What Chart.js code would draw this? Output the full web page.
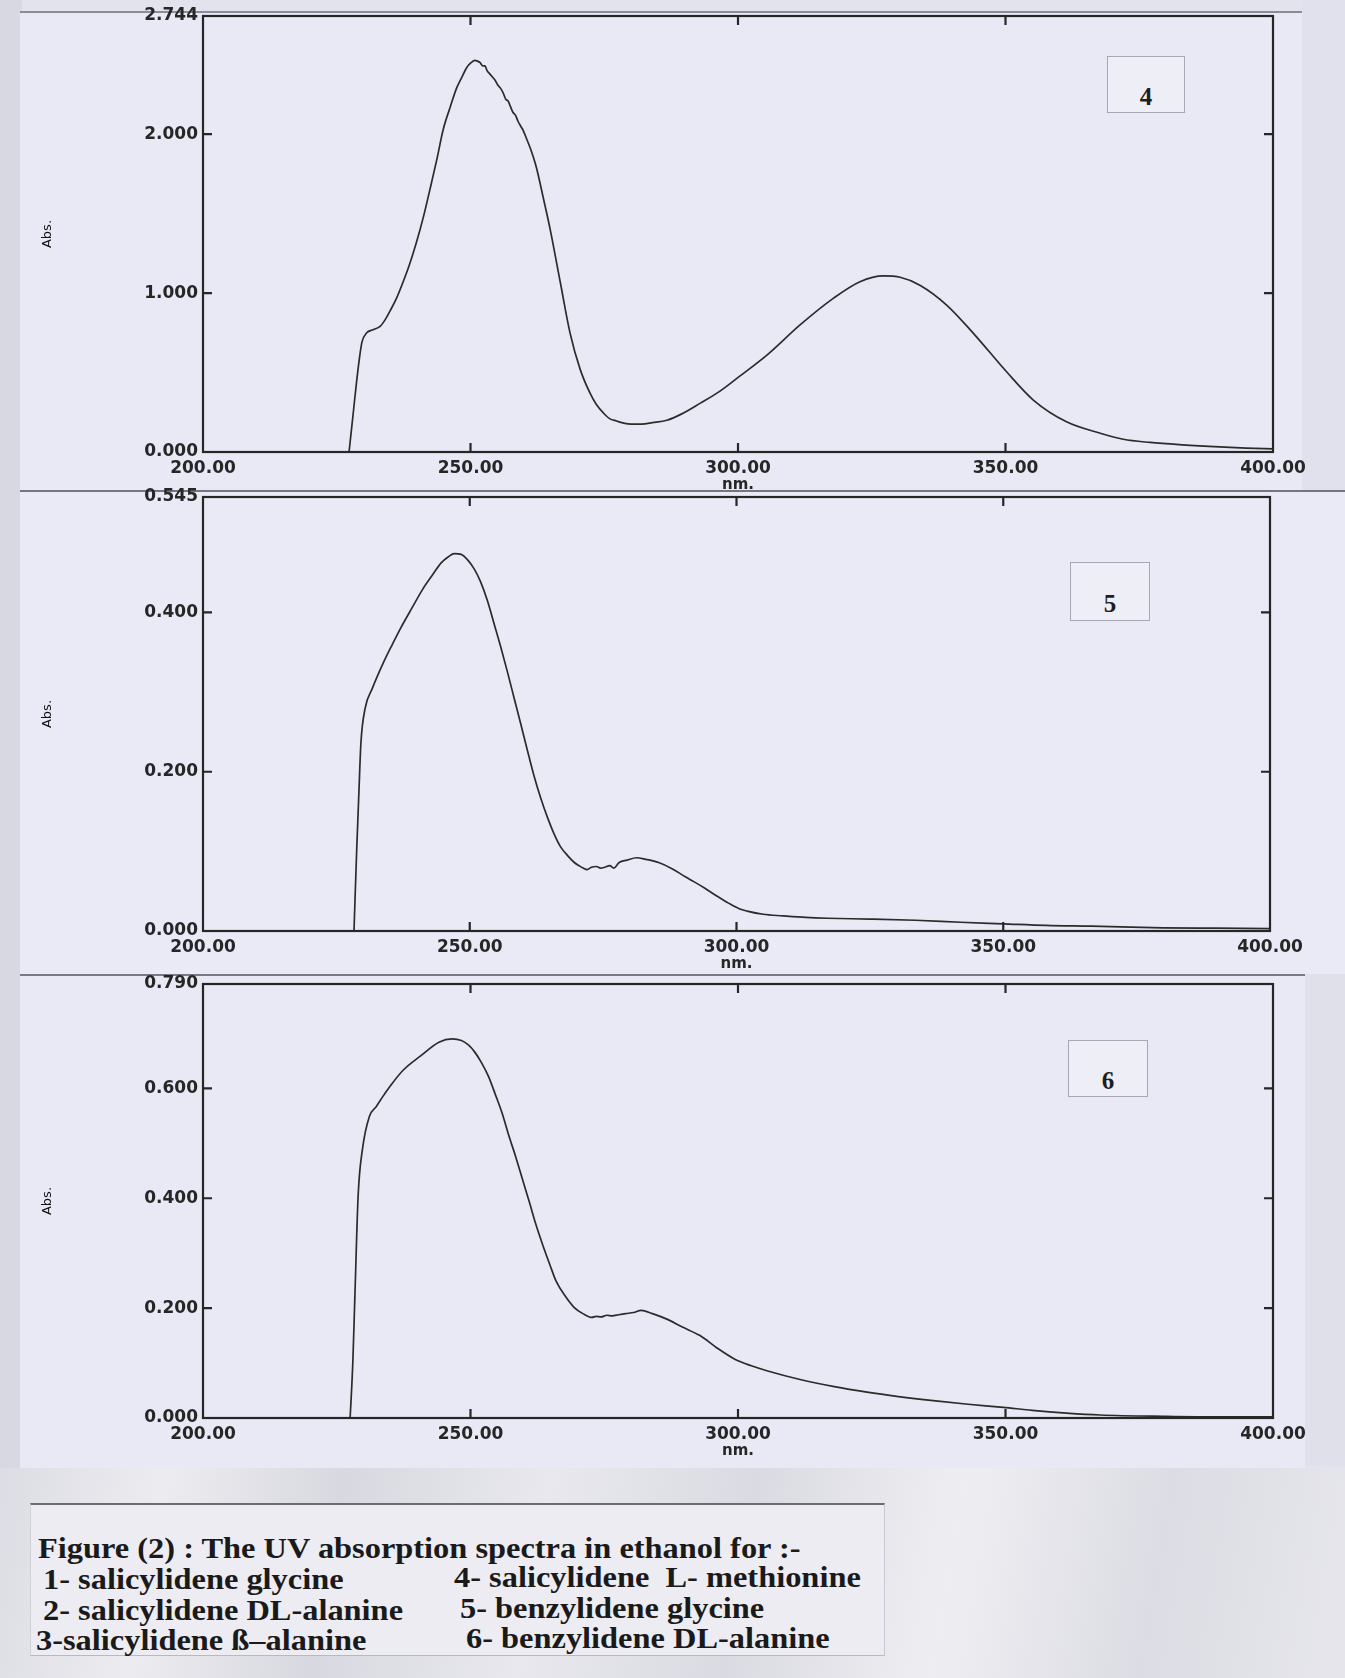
<!DOCTYPE html>
<html>
<head>
<meta charset="utf-8">
<script src="https://cdn.jsdelivr.net/npm/chart.js@4.4.1/dist/chart.umd.min.js"></script>
<style>
  html, body { margin: 0; padding: 0; }
  body { width: 1345px; height: 1678px; position: relative; overflow: hidden; background: #e3e3ee; }
  .sheet { position: absolute; }
  canvas { position: absolute; left: 0; }
  .tag { position: absolute; border: 1px solid rgba(110,110,125,0.55); background: #eeeef7;
         font: bold 25px "Liberation Serif", serif; color: #1e1e1e; text-align: center; box-sizing: border-box; }
  .caption { position: absolute; left: 30px; top: 1503px; width: 855px; height: 153px; box-sizing: border-box;
             background: #ececf2; border-top: 2px solid #6a6a70; border-bottom: 1px solid #b8b8c0;
             border-left: 1px solid #d0d0d8; border-right: 1px solid #c8c8d0;
             font: bold 30px "Liberation Serif", serif; color: #1a1a1a; }
  .caption div { position: absolute; white-space: pre; line-height: 30px; transform: scaleX(1.08); transform-origin: 0 50%; }
</style>
</head>
<body>
<div class="sheet" style="left:0;top:0;width:22px;height:1678px;background:#d8d8e2"></div>
<div class="sheet" style="left:1302px;top:0;width:43px;height:490px;background:#e1e1ed"></div>
<div class="sheet" style="left:20px;top:11px;width:1282px;height:479px;background:#e9e9f6;border-top:2px solid #8c8c98"></div>
<div class="sheet" style="left:20px;top:490px;width:1325px;height:484px;background:#eaeaf7;border-top:2px solid #75757f"></div>
<div class="sheet" style="left:1305px;top:974px;width:40px;height:492px;background:#e0e0ea"></div>
<div class="sheet" style="left:20px;top:974px;width:1285px;height:492px;background:#e9e9f6;border-top:2px solid #7a7a86;border-bottom:2px solid #f2f2f6"></div>
<div class="sheet" style="left:0;top:1468px;width:1345px;height:210px;background:linear-gradient(100deg,#dcdce4 0%,#ececf0 12%,#d8d8e0 25%,#e8e8ee 40%,#dadae2 55%,#eeeef2 70%,#dcdce4 85%,#e6e6ec 100%)"></div>

<canvas id="c4" width="1345" height="500" style="top:0"></canvas>
<canvas id="c5" width="1345" height="499" style="top:480px"></canvas>
<canvas id="c6" width="1345" height="500" style="top:966px"></canvas>

<div class="tag" style="left:1107px;top:56px;width:78px;height:57px;line-height:80px">4</div>
<div class="tag" style="left:1070px;top:562px;width:80px;height:59px;line-height:82px">5</div>
<div class="tag" style="left:1068px;top:1040px;width:80px;height:57px;line-height:80px">6</div>

<div class="caption">
  <div style="left:7px;top:28px">Figure (2) : The UV absorption spectra in ethanol for :-</div>
  <div style="left:12px;top:59px">1- salicylidene glycine</div>
  <div style="left:423px;top:57px">4- salicylidene  L- methionine</div>
  <div style="left:12px;top:90px">2- salicylidene DL-alanine</div>
  <div style="left:429px;top:88px">5- benzylidene glycine</div>
  <div style="left:5px;top:120px">3-salicylidene ß–alanine</div>
  <div style="left:435px;top:118px">6- benzylidene DL-alanine</div>
</div>

<script>
// wavelength axis
const xTicks = [200, 250, 300, 350, 400];

// 4- salicylidene L-methionine
const wl4 = [227.3, 228.0, 228.7, 229.2, 229.7, 230.6, 231.8, 233.1, 234.0, 235.0, 236.2, 237.4, 238.6, 239.9,
  241.2, 242.4, 243.7, 244.9, 246.2, 247.4, 248.4, 249.3, 250.1, 250.8, 251.3, 251.8, 252.3, 252.7, 253.1,
  253.6, 254.1, 254.6, 255.1, 255.6, 256.1, 256.6, 257.0, 257.4, 257.9, 258.4, 258.9, 259.4, 259.9, 260.5,
  261.2, 261.8, 262.4, 263.6, 264.9, 266.8, 268.6, 270.5, 272.3, 273.5, 274.8, 276.0, 277.3, 278.5, 280.0,
  282.0, 284.0, 286.7, 289.5, 292.9, 296.5, 300.2, 305.4, 311.6, 317.8, 322.8, 327.2, 330.3, 334.0, 339.0,
  344.0, 350.2, 355.2, 361.4, 367.7, 372.0, 377.0, 383.0, 390.0, 395.0, 400.0];
const abs4 = [0.00, 0.22, 0.44, 0.58, 0.69, 0.75, 0.77, 0.79, 0.83, 0.89, 0.97, 1.07, 1.18, 1.32,
  1.48, 1.65, 1.84, 2.03, 2.17, 2.29, 2.36, 2.42, 2.45, 2.465, 2.46, 2.45, 2.43, 2.43, 2.40,
  2.38, 2.36, 2.34, 2.31, 2.29, 2.26, 2.22, 2.21, 2.18, 2.14, 2.12, 2.08, 2.05, 2.02, 1.97,
  1.91, 1.85, 1.78, 1.60, 1.40, 1.065, 0.75, 0.52, 0.373, 0.30, 0.247, 0.21, 0.195, 0.183, 0.175,
  0.176, 0.185, 0.20, 0.24, 0.306, 0.38, 0.474, 0.61, 0.80, 0.967, 1.072, 1.108, 1.10, 1.05, 0.925,
  0.747, 0.505, 0.327, 0.19, 0.118, 0.08, 0.06, 0.045, 0.032, 0.025, 0.02];
const yTicks4 = [0, 1, 2, 2.744];

// 5- benzylidene glycine
const wl5 = [228.3, 228.8, 229.2, 229.6, 230.4, 231.7, 233.75, 235.5, 237.1, 239.2, 241.25, 243.0, 244.6, 246.0,
  247.1, 248.4, 249.6, 250.8, 252.0, 253.3, 254.6, 255.8, 257.0, 258.3, 259.6, 260.8, 262.0, 263.3, 264.6,
  265.8, 267.0, 268.3, 269.6, 270.5, 271.25, 272.0, 272.8, 273.75, 274.5, 275.3, 276.25, 277.0, 278.0, 279.5,
  281.25, 283.0, 285.4, 288.0, 290.4, 292.0, 294.0, 296.3, 298.5, 300.5, 302.0, 305.0, 308.7, 313.0, 317.0,
  325.0, 333.5, 342.0, 350.0, 358.0, 366.5, 380.0, 390.0, 400.0];
const abs5 = [0.000, 0.100, 0.170, 0.236, 0.280, 0.304, 0.336, 0.360, 0.381, 0.406, 0.430, 0.447, 0.462, 0.470,
  0.474, 0.473, 0.466, 0.455, 0.439, 0.415, 0.385, 0.357, 0.327, 0.293, 0.259, 0.227, 0.196, 0.167, 0.142,
  0.122, 0.106, 0.095, 0.086, 0.082, 0.079, 0.077, 0.080, 0.081, 0.079, 0.080, 0.082, 0.079, 0.086, 0.089,
  0.092, 0.090, 0.086, 0.078, 0.068, 0.062, 0.054, 0.044, 0.035, 0.028, 0.025, 0.021, 0.019, 0.017, 0.016,
  0.015, 0.0135, 0.011, 0.009, 0.007, 0.006, 0.004, 0.0035, 0.003];
const yTicks5 = [0, 0.2, 0.4, 0.545];

// 6- benzylidene DL-alanine
const wl6 = [227.5, 228.0, 228.4, 229.0, 229.8, 231.1, 232.4, 233.6, 234.9, 237.4, 240.8, 244.1, 246.6, 248.3,
  249.6, 250.8, 252.1, 253.4, 254.6, 255.9, 257.1, 258.4, 259.7, 261.0, 262.2, 263.5, 264.8, 266.0, 267.7,
  269.4, 271.0, 272.7, 273.5, 274.4, 275.5, 276.5, 277.7, 279.0, 280.5, 281.9, 284.0, 286.7, 289.5, 292.9,
  296.0, 299.4, 302.5, 305.4, 311.6, 318.0, 324.1, 330.0, 336.5, 343.0, 349.6, 355.0, 361.4, 367.7, 380.0,
  390.0, 400.0];
const abs6 = [0.000, 0.100, 0.225, 0.405, 0.489, 0.549, 0.567, 0.585, 0.603, 0.633, 0.660, 0.684, 0.690, 0.687,
  0.679, 0.666, 0.646, 0.621, 0.590, 0.555, 0.516, 0.477, 0.435, 0.393, 0.353, 0.315, 0.280, 0.249, 0.222,
  0.201, 0.190, 0.183, 0.185, 0.184, 0.187, 0.186, 0.188, 0.190, 0.192, 0.196, 0.190, 0.180, 0.166, 0.150,
  0.128, 0.107, 0.095, 0.086, 0.070, 0.057, 0.047, 0.039, 0.0315, 0.025, 0.0194, 0.014, 0.009, 0.0055, 0.003,
  0.002, 0.002];
const yTicks6 = [0, 0.2, 0.4, 0.6, 0.79];

const ink = "#262626";
const labelFont = { family: "DejaVu Sans", size: 17, weight: "bold" };

// box frame with inward tick marks, like the spectrophotometer printout
const frameTicks = {
  id: "frameTicks",
  afterDatasetsDraw(chart) {
    const { ctx, chartArea: a, scales: { x, y } } = chart;
    const len = 9;
    ctx.save();
    ctx.strokeStyle = ink;
    ctx.lineWidth = 2.2;
    ctx.strokeRect(a.left, a.top, a.right - a.left, a.bottom - a.top);
    ctx.beginPath();
    x.ticks.forEach(t => {
      if (t.value <= x.min || t.value >= x.max) return;
      const px = x.getPixelForValue(t.value);
      ctx.moveTo(px, a.bottom); ctx.lineTo(px, a.bottom - len);
      ctx.moveTo(px, a.top); ctx.lineTo(px, a.top + len);
    });
    y.ticks.forEach(t => {
      if (t.value <= y.min || t.value >= y.max) return;
      const py = y.getPixelForValue(t.value);
      ctx.moveTo(a.left, py); ctx.lineTo(a.left + len, py);
      ctx.moveTo(a.right, py); ctx.lineTo(a.right - len, py);
    });
    ctx.stroke();
    ctx.restore();
  }
};

function makeChart(id, wl, ab, yTicks, padTop, rightEdge) {
  const yMax = yTicks[yTicks.length - 1];
  return new Chart(document.getElementById(id), {
    type: "line",
    data: {
      datasets: [{
        data: wl.map((w, i) => ({ x: w, y: ab[i] })),
        borderColor: "#2b2b2b",
        borderWidth: 1.7,
        pointRadius: 0,
        fill: false,
        cubicInterpolationMode: "monotone"
      }]
    },
    options: {
      responsive: false,
      animation: false,
      layout: { padding: { left: 0, right: 1345 - rightEdge, top: padTop, bottom: 0 } },
      plugins: { legend: { display: false }, tooltip: { enabled: false } },
      scales: {
        x: {
          type: "linear", min: 200, max: 400,
          afterBuildTicks: s => { s.ticks = xTicks.map(v => ({ value: v })); },
          afterFit: s => { s.height = 48; },
          grid: { display: false, drawTicks: false },
          border: { display: false },
          ticks: { callback: v => v.toFixed(2), font: labelFont, color: ink, padding: 6, maxRotation: 0, autoSkip: false },
          title: { display: true, text: "nm.", color: ink, font: { family: "DejaVu Sans", size: 15, weight: "bold" }, padding: { top: 0, bottom: 6 } }
        },
        y: {
          min: 0, max: yMax,
          afterBuildTicks: s => { s.ticks = yTicks.map(v => ({ value: v })); },
          afterFit: s => { s.width = 203; },
          grid: { display: false, drawTicks: false },
          border: { display: false },
          ticks: { callback: v => v.toFixed(3), font: labelFont, color: ink, padding: 5, autoSkip: false },
          title: { display: true, text: "Abs.", color: "#111", font: { family: "DejaVu Sans", size: 13 }, padding: { top: 40, bottom: 0 } }
        }
      }
    },
    plugins: [frameTicks]
  });
}

makeChart("c4", wl4, abs4, yTicks4, 16, 1273);
makeChart("c5", wl5, abs5, yTicks5, 17, 1270);
makeChart("c6", wl6, abs6, yTicks6, 18, 1273);
</script>
</body>
</html>
